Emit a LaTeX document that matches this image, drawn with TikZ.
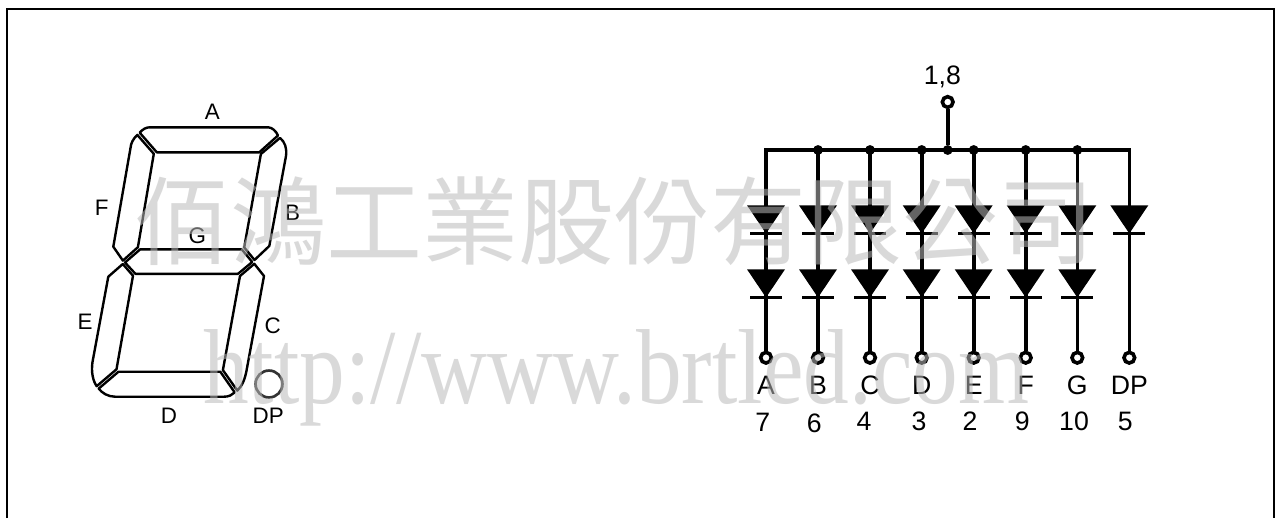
\documentclass[tikz,border=0pt]{standalone}
\usepackage{fontspec}
\setmainfont{Liberation Sans}
\newfontfamily\wmserif{Liberation Serif}
\newfontfamily\wmcjk{Noto Sans CJK TC}
\begin{document}
\begin{tikzpicture}[x=0.75pt,y=-0.75pt,
  seg/.style={draw=black,line width=1.8pt,line join=round,fill=none},
  wire/.style={draw=black,line width=2.7pt},
  pin/.style={circle,draw=black,fill=white,line width=2.7pt,minimum size=8pt,inner sep=0pt},
  dot/.style={circle,fill=black,minimum size=7.4pt,inner sep=0pt},
  lblS/.style={font=\fontsize{16.8}{17}\selectfont,inner sep=0pt,text=black},
  lblR/.style={font=\fontsize{20}{20}\selectfont,inner sep=0pt,text=black},
  wm/.style={inner sep=0pt,text=black!27,text opacity=.54},
]
\useasboundingbox (0,0) rectangle (1277,518);
\fill[white] (0,0) rectangle (1277,518);
\coordinate (fbl) at (7,518);
\coordinate (ftl) at (7,9);
\coordinate (ftr) at (1274,9);
\coordinate (fbr) at (1274,518);
\draw[black,line width=2pt] (fbl) -- (ftl) -- (ftr) -- (fbr);

% seven-segment outline
\draw[seg] (139.7,132.7) .. controls (143,129) and (146,127.3) .. (150,127.3) -- (268,127.3)
  .. controls (272,127.3) and (276,131) .. (278,135.5) -- (259.3,152.3) -- (156.8,152.3) -- cycle;
\draw[seg] (137.3,134.9) .. controls (133,139) and (131,143) .. (130.5,148) -- (113.3,246.7) -- (122.9,260.6) -- (137.9,247.2) -- (153.8,153.8) -- cycle;
\draw[seg] (280,137.9) .. controls (285,142) and (287,148) .. (286,156) -- (269.3,246) -- (254.5,260) -- (244.2,247.4) -- (260.9,154) -- cycle;
\draw[seg] (125,262.5) -- (140.1,249.4) -- (241.8,249.4) -- (252.2,262) -- (238,273.8) -- (135.4,273.8) -- cycle;
\draw[seg] (122.8,264) -- (108.3,276.7) -- (92.5,362) .. controls (91,372) and (93,381) .. (96.7,386.2) -- (116.5,369.3) -- (133,275.7) -- cycle;
\draw[seg] (254.3,263.8) -- (264,276) -- (247,368) .. controls (245,380) and (242,386) .. (237.3,390.6) -- (222.9,370.1) -- (240,276) -- cycle;
\draw[seg] (234.7,392.4) .. controls (232,395) and (229,396.7) .. (224,396.7) -- (115,396.7) .. controls (108,396.7) and (102,393) .. (98.7,388.6) -- (118.5,371.7) -- (220.3,371.7) -- cycle;
\node[circle,draw=black!80,line width=2pt,minimum size=20.2pt,inner sep=0pt] (dp) at (269,384) {};

% segment labels
\node[lblS] (la) at (212.3,112) {A};
\node[lblS] (lf) at (101.7,207.3) {F};
\node[lblS] (lb) at (292.7,212.3) {B};
\node[lblS] (lg) at (197.3,236) {G};
\node[lblS] (le) at (85,321.7) {E};
\node[lblS] (lc) at (272.7,325.7) {C};
\node[lblS] (ld) at (169,416) {D};
\node[lblS] (ldp) at (268.3,416) {DP};

% common bus
\node[dot] (jc) at (947.7,150) {};
\node[pin] (ptop) at (947.7,102) {};
\draw[wire] (ptop) -- (jc);
\coordinate (bl) at (764.2,150);
\coordinate (br) at (1131.1,150);
\draw[wire] (bl) -- (br);

% columns: x, pin name, number, number x, number y
\foreach \n/\x/\name/\num/\nx/\ny in {a/766/A/7/762.7/422.3,b/818/B/6/814.3/423,c/870/C/4/864/421,d/921.7/D/3/919/421,e/973.7/E/2/970/421,f/1025.7/F/9/1022.3/421,g/1077.3/G/10/1074/421,p/1129.3/DP/5/1125.3/421}{
  \coordinate (t\n) at (\x,150);
  \node[pin] (p\n) at (\x,357.7) {};
  \draw[wire] (t\n) -- (p\n);
  \node[lblR] (n\n) at (\x,385) {\name};
  \node[lblR] (m\n) at (\nx,\ny) {\num};
  % upper diode
  \fill[black] (\x-19,205.3) -- (\x+19,205.3) -- (\x,233.5) -- cycle;
  \fill[black] (\x-16,231.6) rectangle (\x+16,235);
}
\foreach \n/\x in {a/766,b/818,c/870,d/921.7,e/973.7,f/1025.7,g/1077.3}{
  \fill[black] (\x-19,269.3) -- (\x+19,269.3) -- (\x,297.5) -- cycle;
  \fill[black] (\x-16,295.6) rectangle (\x+16,299);
}
\foreach \n/\x in {b/818,c/870,d/921.7,e/973.7,f/1025.7,g/1077.3}{
  \node[dot] (j\n) at (\x,150) {};
}
\node[lblR] (l18) at (942.3,76.7) {1,8};

% watermark
\node[wm,anchor=base west,font=\wmcjk\fontsize{72}{72}\selectfont] (wm1) at (134,257) {佰鴻工業股份有限公司};
\node[wm,anchor=base west,xscale=.856,transform shape,font=\wmserif\fontsize{80}{80}\selectfont] (wm2) at (203,403) {http://www.brtled.com};
\end{tikzpicture}
\end{document}
